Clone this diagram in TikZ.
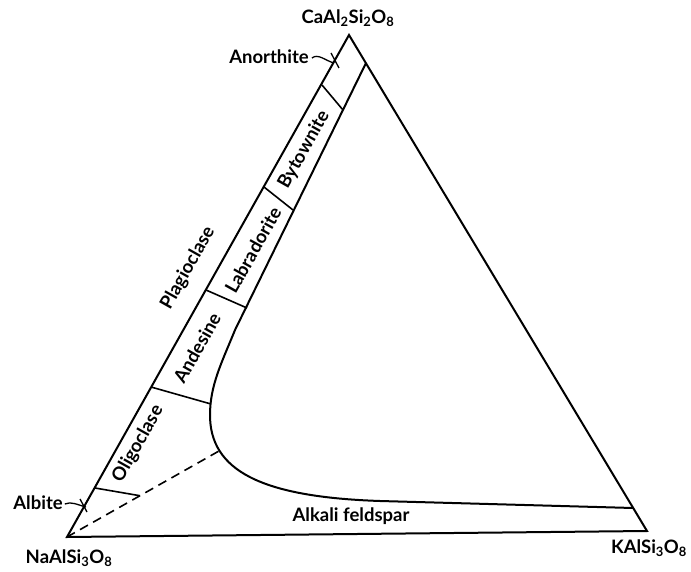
\documentclass[tikz,border=0pt]{standalone}
\usepackage{fontspec}
\setmainfont{Lato}
\usetikzlibrary{calc}
\begin{document}
\begin{tikzpicture}[x=1pt,y=-1pt,
  edge/.style={line width=2pt, line join=miter},
  div/.style={line width=1.6pt},
  lead/.style={line width=1.3pt},
  lab/.style={font=\bfseries\fontsize{18.5}{21}\selectfont, inner sep=0pt},
  rlab/.style={lab, rotate=60.7}]
\useasboundingbox (0,0) rectangle (691,572);
% vertices
\coordinate (Ca) at (349,35);
\coordinate (Na) at (67,537);
\coordinate (K) at (647,531);
\draw[edge] (Na) -- (Ca) -- (K) -- cycle;
% inner boundary of plagioclase field and alkali feldspar field
\coordinate (i0) at (366,63);
\coordinate (i1) at (235,330);
\coordinate (c1) at (210,415);
\coordinate (c2) at (380,501);
\coordinate (i3) at (633,508);
\draw[edge] (i0) -- (i1) .. controls (222,362) and (210,385) .. (c1)
  .. controls (210,470) and (260,497) .. (c2) -- (i3);
% dashed line
\coordinate (dE) at (219,451);
\draw[div, dash pattern=on 9pt off 6pt] (Na) -- (dE);
% dividers
\coordinate (a1) at (322,85);  \coordinate (b1) at (343,110);
\coordinate (a2) at (264,187); \coordinate (b2) at (293,210);
\coordinate (a3) at (206,290); \coordinate (b3) at (247,308);
\coordinate (a4) at (151,387); \coordinate (b4) at (211,404);
\coordinate (a5) at (95,488);  \coordinate (b5) at ($(Na)!0.48!(dE)$);
\draw[div] (a1) -- (b1);
\draw[div] (a2) -- (b2);
\draw[div] (a3) -- (b3);
\draw[div] (a4) -- (b4);
\draw[div] (a5) -- (b5);
% labels
\node[lab] (ca) at (348,18) {CaAl\textsubscript{2}Si\textsubscript{2}O\textsubscript{8}};
\node[lab] (na) at (69,558) {NaAlSi\textsubscript{3}O\textsubscript{8}};
\node[lab] (k) at (649,548) {KAlSi\textsubscript{3}O\textsubscript{8}};
\node[lab] (an) at (269,57) {Anorthite};
\node[lab] (ab) at (38,503) {Albite};
\node[lab] (alk) at (351,516) {Alkali feldspar};
\node[rlab] (pl) at (188,268) {Plagioclase};
\node[rlab] (by) at (304,150) {Bytownite};
\node[rlab] (la) at (253,250) {Labradorite};
\node[rlab] (and) at (197,348) {Andesine};
\node[rlab] (ol) at (138,444) {Oligoclase};
% leaders
\coordinate (anT) at (334,63);
\draw[lead] ($(an.east)+(3,1)$) .. controls +(6,-5) and +(-8,-2) .. (anT);
\draw[lead] (331,53) -- (339,68);
\coordinate (abT) at (86,507);
\draw[lead] ($(ab.east)+(2,1)$) .. controls +(6,-3) and +(-8,-2) .. (abT);
\draw[lead] (80,499) -- (87,512);
\end{tikzpicture}
\end{document}
